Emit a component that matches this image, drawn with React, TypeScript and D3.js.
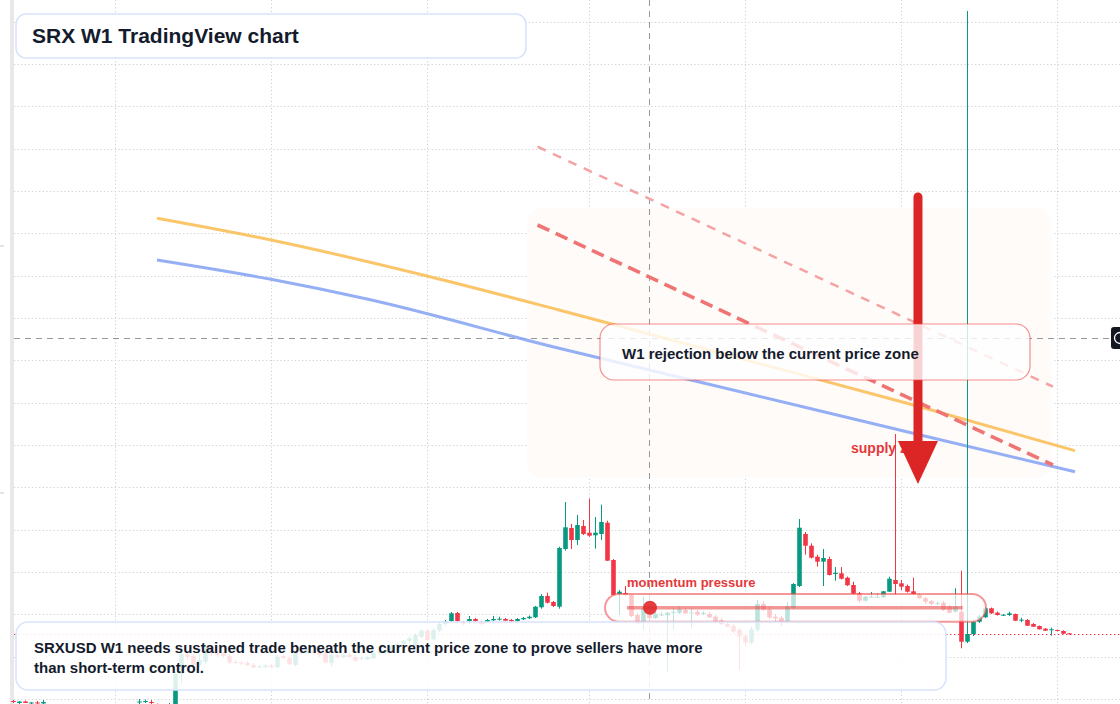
import React from 'react';
import * as d3 from 'd3';

// ---------- data (weekly candles, [open, high, low, close]) ----------
const candles: [number, number, number, number][] = [
  [59, 60, 57, 58], [57, 59, 56, 58.5], [58.5, 59.5, 57, 57], [57, 58, 56, 57.5], [57.5, 59, 56, 56.5],
  [56.5, 60, 56, 58], [55, 55.5, 50, 52], [52, 54, 45, 47], [47, 49, 42, 44], [44, 47, 41, 46],
  [46, 48, 43, 44], [44, 45, 39, 41], [41, 44, 40, 43], [43, 44, 38, 39], [39, 42, 37, 41],
  [41, 43, 39, 40], [40, 45, 39, 44], [44, 48, 43, 47], [47, 51, 46, 50], [50, 54, 49, 53],
  [53, 55.5, 52, 55], [58, 61, 56, 58.5], [58.5, 60.5, 57, 59], [58, 60, 55.5, 57], [55, 56.5, 52, 54],
  [54, 56, 51, 55], [55, 57, 52, 55.5], [55.5, 88, 54, 86], [86, 110, 77, 106], [106, 108, 100, 103],
  [104, 106, 92, 95], [95, 105, 93, 100], [98.3, 115, 96, 113.3], [113, 115, 104, 107], [107, 109, 103, 105],
  [107, 108, 102, 104], [104, 106, 96, 97.3], [98, 100, 96, 97.5], [97.5, 99, 95, 97], [97, 99, 94, 95],
  [95, 97, 92, 92.7], [93, 95, 92, 93.5], [93, 96, 92, 94.5], [94.5, 96, 92, 92.7], [92.7, 105, 92, 103.3],
  [104, 105, 101, 102], [102, 104, 95, 95.7], [95, 109, 94, 107.3], [108, 110, 106, 106.7], [106.7, 111, 106, 109],
  [109, 111, 105, 107], [107, 110, 103, 105], [107.3, 109, 97, 97.3], [97.3, 107, 93.3, 105], [105, 106.5, 102, 102.7],
  [102.7, 107, 102, 105.3], [105.3, 107, 102, 103], [103, 105, 98.5, 99.3], [101.5, 104, 100, 102], [100.7, 104, 100, 103],
  [101.7, 108, 101, 107], [107, 110, 105, 109], [107, 112, 106, 110], [110, 115, 108, 114], [114, 118, 111, 116],
  [116, 120, 114, 119], [119, 124, 116, 122], [113.3, 127, 112, 125], [123.3, 131, 122, 129.3], [129.3, 131, 119, 120],
  [120.7, 132, 120, 130], [129.3, 138, 128, 136], [136, 140, 134, 138.3], [139, 148, 138, 146.7], [147, 148, 138, 139],
  [138, 139, 135, 136.5], [139, 144, 136, 141], [141, 142, 138, 139], [138, 139, 134.5, 136], [138, 141, 137, 140],
  [139.7, 144, 139, 141], [140.3, 143.3, 139.5, 141.3], [141, 142, 139, 139.3], [140, 141, 138, 138.7], [139, 142, 138, 141],
  [140.7, 143, 140, 142], [141.7, 144.5, 141, 143.3], [142.7, 154, 142, 153.3], [152.7, 166, 151.3, 164], [164, 167.3, 156.5, 157.3],
  [158, 159, 153, 154], [153.3, 213.3, 151.3, 212], [211, 258, 209.3, 232.7], [232, 236, 211, 220], [220, 245, 215, 235],
  [234, 240, 225, 226], [227.3, 261.3, 223.3, 224.3], [224.7, 243, 211.3, 227.3], [226, 255.3, 220, 238], [237.3, 239.3, 199, 199.3],
  [200, 201, 164.5, 165], [166, 170, 145, 168.3], [167, 174, 164, 165], [165, 166, 143, 144], [145, 147, 136, 136.7],
  [137, 163.3, 130, 152], [147, 149, 141, 142], [142, 148, 141, 146], [145.3, 148, 144, 145.5], [144.7, 148.3, 87.3, 147.3],
  [147.5, 151.7, 130, 148], [147.3, 153, 146, 151], [150, 152, 146, 146.7], [147, 151.7, 132, 147.5], [148.3, 150, 144, 145.3],
  [146.5, 149, 145, 147], [146, 148, 142, 142.7], [143.3, 145, 138, 138.7], [140, 142, 135, 136], [136, 138, 132.5, 133.3],
  [134, 136, 127, 128.3], [130, 132, 90, 123.3], [124, 126, 113.3, 117.3], [117.3, 133, 116, 130.7], [130, 160, 128, 156],
  [156, 159, 149, 150], [150.7, 153, 141, 142.7], [143.3, 146, 138, 141.7], [142, 144, 134, 138.3], [138.3, 158, 137, 153.3],
  [151.7, 177, 151, 176], [174, 241, 173, 232.3], [226, 228, 205.3, 214.3], [214.3, 216.7, 201.5, 202.3], [203.3, 205.3, 193.3, 198.3],
  [198.3, 211, 174, 202], [201, 203.3, 184.5, 185], [186, 193, 179.3, 187.3], [186.7, 193, 180.5, 181.3], [182.3, 183.5, 174, 174.7],
  [175, 178.3, 165.5, 166.3], [166.7, 168, 157.3, 159.3], [159.3, 164, 158.5, 163.3], [162.7, 168, 162, 163.3], [163, 166.7, 162, 163.3],
  [162.7, 169, 162, 168.7], [168.3, 183.3, 168, 181.3], [180, 326, 165, 176], [176.7, 180, 170, 173.3], [174, 175.5, 167.5, 168.3],
  [168.7, 182.3, 165, 166], [165, 166.5, 161, 161.7], [161.7, 163, 156, 158.3], [159, 160, 155, 156], [156.5, 158.5, 155, 156.7],
  [157.3, 159, 149, 150], [153.3, 155, 146.5, 147.3], [148.3, 171.7, 147.5, 153.3], [148.3, 189.3, 111.7, 118.3], [118.3, 749, 117, 126],
  [126, 139.5, 124, 138.3], [138.3, 145, 137, 143.3], [142.7, 153, 142, 151.7], [151.7, 152.5, 146, 146.7], [147.3, 148.5, 144.5, 145],
  [144.7, 146, 144, 145.3], [145, 148.3, 144, 146.7], [146, 146.5, 139, 139.3], [139.5, 142.3, 137.7, 140.3], [140, 141, 134, 134.3],
  [136, 137, 133, 133.3], [134, 134.5, 130.5, 130.7], [131.3, 132, 129, 129.3], [130, 132.3, 124.3, 130.7], [130, 130.5, 128.5, 129],
  [129, 129.7, 126, 126.3], [126.7, 127, 125.5, 125.7],
];

// price grid levels and time grid (candle index) positions
const priceGrid = [61, 103.3, 145.6, 188, 230.3, 272.6, 315, 357.3, 399.6, 442, 484.3, 526.6, 569, 611.3, 653.6, 696, 738.3];
const timeGrid = [17, 43, 69, 96, 122, 148, 174];

// moving-average style curves: [candle index, price]
const orangeLine: [number, number][] = [[24, 541.7], [43, 520], [69, 484], [91, 450], [120, 403.5], [150.7, 354], [177, 309.3]];
const blueLine: [number, number][] = [[24, 500], [43, 480.7], [59, 461], [91, 411.7], [120, 370], [150.7, 325.7], [177, 288.3]];
const dashThick: [number, number][] = [[87.42, 535], [173.33, 295]];
const dashThin: [number, number][] = [[87.42, 613.3], [173.33, 373.3]];

// zones & markers in [index, price]
const supplyZone = { i0: 85.67, i1: 173.17, pTop: 552, pBot: 282 };
const arrow = { i: 150.83, pTop: 563, pHead: 319, pTip: 276 };
const supplyLabel = { i: 139.67, p: 307, text: 'supply zone' };
const momentum = { i0: 98.67, i1: 162.17, pTop: 166, pBot: 138.3, lineI0: 102.33, lineI1: 158.28, lineP: 152.3, dotI: 106.17, labelI: 102.33, labelP: 173, text: 'momentum pressure' };
const crosshair = { i: 106, p: 422 };

const titleText = 'SRX W1 TradingView chart';
const noteLines = [
  'SRXUSD W1 needs sustained trade beneath the current price zone to prove sellers have more',
  'than short-term control.',
];
const rejectionText = 'W1 rejection below the current price zone';

const UP = '#089981';
const DOWN = '#f23645';
const FONT = "'Liberation Sans', Arial, Helvetica, sans-serif";

export default function App() {
  const W = 1120;
  const H = 704;
  const x = d3.scaleLinear().domain([0, candles.length - 1]).range([13, 1069]);
  const y = d3.scaleLinear().domain([0, 760]).range([760, 0]);
  const bw = 4.6;
  const line = d3
    .line<[number, number]>()
    .x((d) => x(d[0]))
    .y((d) => y(d[1]))
    .curve(d3.curveMonotoneX);
  const last = candles[candles.length - 1][3];

  const ax = x(arrow.i);

  return (
    <svg
      width={W}
      height={H}
      viewBox={`0 0 ${W} ${H}`}
      style={{ position: 'fixed', left: 0, top: 0, background: '#fff', display: 'block' }}
      fontFamily={FONT}
    >
      <rect x={0} y={0} width={W} height={H} fill="#ffffff" />
      {/* left gutter */}
      <rect x={10} y={0} width={4} height={H} fill="#e8e8e8" />
      {[246, 493].map((v) => (
        <line key={v} x1={0} x2={4} y1={v} y2={v} stroke="#c8c8c8" strokeWidth={1} />
      ))}

      {/* grid */}
      <g stroke="#cdd0d4" strokeWidth={1} strokeDasharray="1.2 2.4">
        {priceGrid.map((p) => (
          <line key={'h' + p} x1={14} x2={W} y1={Math.round(y(p)) + 0.5} y2={Math.round(y(p)) + 0.5} />
        ))}
        {timeGrid.map((t) => (
          <line key={'v' + t} x1={Math.round(x(t)) + 0.5} x2={Math.round(x(t)) + 0.5} y1={0} y2={H} />
        ))}
      </g>

      {/* supply zone */}
      <rect
        x={x(supplyZone.i0)}
        y={y(supplyZone.pTop)}
        width={x(supplyZone.i1) - x(supplyZone.i0)}
        height={y(supplyZone.pBot) - y(supplyZone.pTop)}
        rx={16}
        fill="#fefbf9"
      />

      {/* crosshair */}
      <g stroke="#9598a1" strokeWidth={1} strokeDasharray="6 5">
        <line x1={14} x2={1112} y1={Math.round(y(crosshair.p)) + 0.5} y2={Math.round(y(crosshair.p)) + 0.5} />
        <line x1={Math.round(x(crosshair.i)) + 0.5} x2={Math.round(x(crosshair.i)) + 0.5} y1={0} y2={H} />
      </g>

      {/* moving averages */}
      <path d={line(orangeLine) || ''} fill="none" stroke="#fbbf5a" strokeWidth={3} strokeOpacity={0.9} />
      <path d={line(blueLine) || ''} fill="none" stroke="#8aa6f4" strokeWidth={3} strokeOpacity={0.9} />
      <path d={line(dashThin) || ''} fill="none" stroke="#f4a3a3" strokeWidth={2.5} strokeDasharray="9 8" />
      <path d={line(dashThick) || ''} fill="none" stroke="#ef7474" strokeWidth={3.6} strokeDasharray="13 7" />

      {/* current price line */}
      <line x1={14} x2={W} y1={Math.round(y(last)) + 0.5} y2={Math.round(y(last)) + 0.5} stroke={DOWN} strokeWidth={1.2} strokeDasharray="1.4 2.6" />

      {/* candles */}
      <g>
        {candles.map(([o, h, l, c], i) => {
          const up = c >= o;
          const col = up ? UP : DOWN;
          const cx = Math.round(x(i)) + 0.5;
          const top = y(Math.max(o, c));
          const bot = y(Math.min(o, c));
          return (
            <g key={i}>
              <line x1={cx} x2={cx} y1={y(h)} y2={y(l)} stroke={col} strokeWidth={1} />
              <rect x={cx - bw / 2} y={top} width={bw} height={Math.max(1, bot - top)} fill={col} />
            </g>
          );
        })}
      </g>

      {/* supply label + arrow */}
      <text x={x(supplyLabel.i)} y={y(supplyLabel.p)} fontSize={14} fontWeight={700} fill="#e5383b">
        {supplyLabel.text}
      </text>
      <line x1={ax} x2={ax} y1={y(arrow.pTop)} y2={y(arrow.pHead) + 4} stroke="#dc2626" strokeWidth={9} strokeLinecap="round" />
      <path
        d={`M${ax - 20},${y(arrow.pHead)} L${ax + 20},${y(arrow.pHead)} L${ax},${y(arrow.pTip)} Z`}
        fill="#dc2626"
      />

      {/* momentum pressure pill */}
      <rect
        x={x(momentum.i0)}
        y={y(momentum.pTop)}
        width={x(momentum.i1) - x(momentum.i0)}
        height={y(momentum.pBot) - y(momentum.pTop)}
        rx={14}
        fill="#ffffff"
        fillOpacity={0.72}
        stroke="#ef4444"
        strokeOpacity={0.55}
        strokeWidth={2}
      />
      <line
        x1={x(momentum.lineI0)}
        x2={x(momentum.lineI1)}
        y1={y(momentum.lineP)}
        y2={y(momentum.lineP)}
        stroke="#e53e3e"
        strokeOpacity={0.55}
        strokeWidth={3.5}
      />
      <circle cx={x(momentum.dotI)} cy={y(momentum.lineP)} r={7} fill="#e0282c" fillOpacity={0.9} />
      <text x={x(momentum.labelI)} y={y(momentum.labelP)} fontSize={13} fontWeight={700} fill="#e5383b">
        {momentum.text}
      </text>

      {/* rejection box */}
      <rect x={600} y={324} width={430} height={56} rx={14} fill="#ffffff" fillOpacity={0.8} stroke="#ef4444" strokeOpacity={0.6} strokeWidth={1.2} />
      <text x={622} y={359} fontSize={15} fontWeight={700} fill="#141b2d">
        {rejectionText}
      </text>

      {/* bottom note */}
      <rect x={16} y={622} width={930} height={68} rx={12} fill="#ffffff" fillOpacity={0.86} stroke="#d6e3fb" strokeWidth={1.5} />
      {noteLines.map((t, k) => (
        <text key={k} x={34} y={653 + k * 20} fontSize={15} fontWeight={700} fill="#141b2d">
          {t}
        </text>
      ))}

      {/* title */}
      <rect x={16} y={14} width={510} height={44} rx={10} fill="#ffffff" stroke="#d6e3fb" strokeWidth={1.5} />
      <text x={32} y={43} fontSize={21} fontWeight={700} fill="#141b2d">
        {titleText}
      </text>

      {/* right edge badge */}
      <rect x={1111} y={327} width={20} height={22} rx={3} fill="#131722" />
      <circle cx={1120} cy={338} r={5.5} fill="none" stroke="#ffffff" strokeWidth={1.3} />
    </svg>
  );
}
